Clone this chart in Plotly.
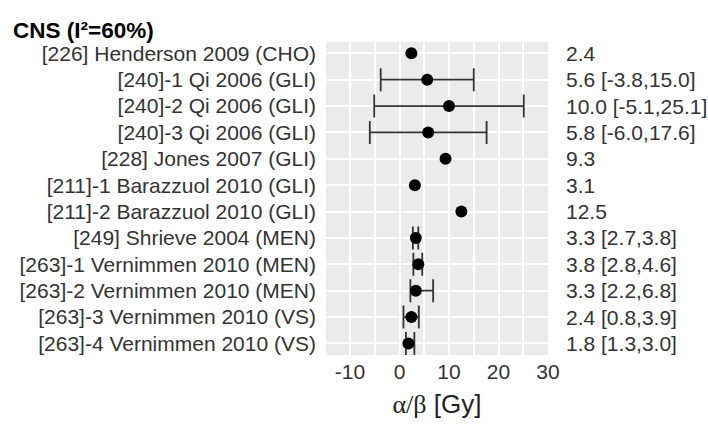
import plotly.graph_objects as go

# Study labels (top to bottom) with alpha/beta estimates and 95% CI (None where not reported)
studies = [
    "[226] Henderson 2009 (CHO)",
    "[240]-1 Qi 2006 (GLI)",
    "[240]-2 Qi 2006 (GLI)",
    "[240]-3 Qi 2006 (GLI)",
    "[228] Jones 2007 (GLI)",
    "[211]-1 Barazzuol 2010 (GLI)",
    "[211]-2 Barazzuol 2010 (GLI)",
    "[249] Shrieve 2004 (MEN)",
    "[263]-1 Vernimmen 2010 (MEN)",
    "[263]-2 Vernimmen 2010 (MEN)",
    "[263]-3 Vernimmen 2010 (VS)",
    "[263]-4 Vernimmen 2010 (VS)",
]
ab_value = [2.4, 5.6, 10.0, 5.8, 9.3, 3.1, 12.5, 3.3, 3.8, 3.3, 2.4, 1.8]
ci_low = [None, -3.8, -5.1, -6.0, None, None, None, 2.7, 2.8, 2.2, 0.8, 1.3]
ci_high = [None, 15.0, 25.1, 17.6, None, None, None, 3.8, 4.6, 6.8, 3.9, 3.0]
x_ticks = [-10, 0, 10, 20, 30]

FONT = "Liberation Sans, Arial, sans-serif"
TEXT_COL = "#333333"

rows = list(range(1, len(studies) + 1))

fig = go.Figure()

# Confidence intervals (only rows that report one)
ci_rows = [i for i, lo in enumerate(ci_low) if lo is not None]
fig.add_trace(go.Scatter(
    x=[ab_value[i] for i in ci_rows],
    y=[rows[i] for i in ci_rows],
    mode="markers",
    marker=dict(size=1, opacity=0),
    error_x=dict(
        type="data",
        symmetric=False,
        array=[ci_high[i] - ab_value[i] for i in ci_rows],
        arrayminus=[ab_value[i] - ci_low[i] for i in ci_rows],
        color="#333333",
        thickness=1.8,
        width=11.5,
    ),
    hoverinfo="skip",
    showlegend=False,
))

# Point estimates
fig.add_trace(go.Scatter(
    x=ab_value,
    y=rows,
    mode="markers",
    marker=dict(size=12, color="black"),
    showlegend=False,
))

# Estimate / CI text to the right of the panel
for r, v, lo, hi in zip(rows, ab_value, ci_low, ci_high):
    txt = f"{v:.1f}" if lo is None else f"{v:.1f} [{lo:.1f},{hi:.1f}]"
    fig.add_annotation(
        x=1, xref="x domain", xshift=16, xanchor="left",
        y=r, yref="y", yanchor="middle",
        text=txt, showarrow=False,
        font=dict(family=FONT, size=21, color=TEXT_COL),
    )

fig.update_layout(
    width=708, height=427,
    margin=dict(l=326, r=160, t=42, b=72),
    paper_bgcolor="white",
    plot_bgcolor="#EBEBEB",
    title=dict(
        text="<b>CNS (I²=60%)</b>",
        x=13 / 708, xanchor="left", xref="container",
        y=0.93, yanchor="middle", yref="container",
        font=dict(family=FONT, size=22.5, color="black"),
    ),
    xaxis=dict(
        range=[-14.85, 30],
        tickvals=x_ticks,
        ticktext=[str(t) for t in x_ticks],
        showgrid=True, gridcolor="white", gridwidth=2,
        minor=dict(dtick=5, tick0=-15, showgrid=True, gridcolor="white", gridwidth=1.5),
        zeroline=False, showline=False, ticks="",
        ticklabelstandoff=2,
        tickfont=dict(family=FONT, size=21, color=TEXT_COL),
        title=dict(
            text="<span style='font-family:Liberation Serif, Times New Roman, serif'>α/β</span> [Gy]",
            font=dict(family=FONT, size=26, color="#222222"),
            standoff=12,
        ),
    ),
    yaxis=dict(
        range=[12.44, 0.57],
        tickvals=rows,
        ticktext=studies,
        showgrid=True, gridcolor="white", gridwidth=2,
        zeroline=False, showline=False, ticks="",
        ticklabelstandoff=9,
        tickfont=dict(family=FONT, size=21, color=TEXT_COL),
    ),
)

fig.write_html("out.html")
